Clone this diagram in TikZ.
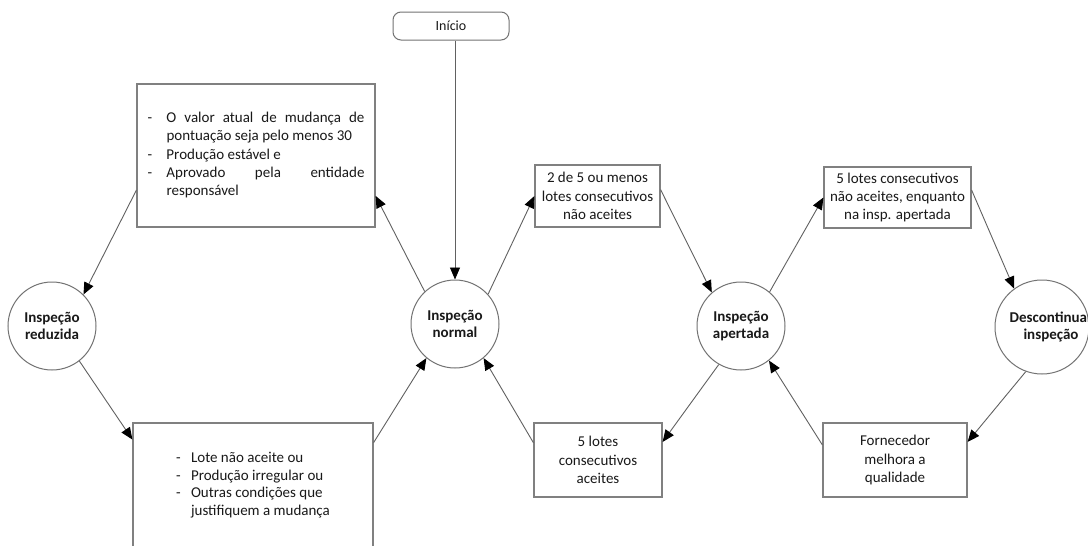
\documentclass[tikz,border=0pt]{standalone}
\usepackage{fontspec}
\setmainfont{Carlito}
\usetikzlibrary{arrows.meta,calc}
\begin{document}
\begin{tikzpicture}[x=1pt,y=-1pt,
  every node/.style={text=black!90,font=\fontsize{15}{18.3}\selectfont},
  state/.style={circle,draw=black!55,line width=1pt,minimum size=88pt,inner sep=0pt,align=center,
    font=\bfseries\fontsize{15}{17}\selectfont},
  cond/.style={rectangle,draw=black!50,line width=1.2pt,inner sep=0pt,align=center},
  flow/.style={draw=black!62,line width=0.9pt,-{Triangle[length=12pt,width=10pt,color=black]}}]
\fill[white] (0,0) rectangle (1088,546);
\clip (0,0) rectangle (1088,546);

% inspection states
\node[state] (red) at (52,326) {Inspeção\\reduzida};
\node[state] (nor) at (455,324) {Inspeção\\normal};
\node[state] (ape) at (741,326) {Inspeção\\apertada};
\node[state,minimum size=94pt] (des) at (1042,327)
  {\makebox[60pt][c]{\hspace*{18pt}Descontinuar}\\\makebox[60pt][c]{\hspace*{18pt}inspeção}};

% start
\node[draw=black!55,line width=1pt,rounded corners=8pt,minimum width=116pt,minimum height=28pt,
  font=\fontsize{14}{16}\selectfont] (start) at (451,26) {Início};

% switching conditions
\node[cond,minimum width=238pt,minimum height=143pt] (tl) at (256,155.5) {%
  \begin{tabular}{@{}p{19pt}@{}p{198pt}@{}}
  -&O valor atual de mudança de\linebreak pontuação seja pelo menos 30\\
  -&Produção estável e\\
  -&Aprovado pela entidade\linebreak responsável
  \end{tabular}};
\node[cond,minimum width=240pt,minimum height=125pt,font=\fontsize{15}{17.8}\selectfont] (bl) at (253,485.5) {%
  \begin{tabular}{@{}p{15pt}@{}l@{}}
  -&Lote não aceite ou\\
  -&Produção irregular ou\\
  -&Outras condições que\\
  &justifiquem a mudança
  \end{tabular}};
\node[cond,minimum width=125pt,minimum height=62pt] (b1) at (597.5,196) {2 de 5 ou menos\\lotes consecutivos\\não aceites};
\node[cond,minimum width=128pt,minimum height=74pt] (b2) at (598,460) {5 lotes\\consecutivos\\aceites};
\node[cond,minimum width=147pt,minimum height=61pt] (b3) at (897.5,197.5) {5 lotes consecutivos\\não aceites, enquanto\\na insp. apertada};
\node[cond,minimum width=144pt,minimum height=74pt] (b4) at (895,460) {Fornecedor\\melhora a\\qualidade};

% transitions
\draw[flow] (start.south -| nor.north) -- (nor.north);
\draw[flow] (nor.133) -- ($(tl.south east)!0.22!(tl.north east)$);
\draw[flow] ($(tl.south west)!0.26!(tl.north west)$) -- (red.45);
\draw[flow] (red.-52) -- ($(bl.north west)!0.136!(bl.south west)$);
\draw[flow] ($(bl.north east)!0.16!(bl.south east)$) -- (nor.-130);
\draw[flow] (nor.42) -- (b1.west);
\draw[flow] ($(b1.north east)!0.4!(b1.south east)$) -- (ape.131);
\draw[flow] (ape.-120) -- ($(b2.north east)!0.26!(b2.south east)$);
\draw[flow] ($(b2.north west)!0.27!(b2.south west)$) -- (nor.-50);
\draw[flow] (ape.50) -- (b3.west);
\draw[flow] ($(b3.north east)!0.38!(b3.south east)$) -- (des.126);
\draw[flow] (des.-110) -- ($(b4.north east)!0.26!(b4.south east)$);
\draw[flow] ($(b4.north west)!0.3!(b4.south west)$) -- (ape.-51);
\end{tikzpicture}
\end{document}
